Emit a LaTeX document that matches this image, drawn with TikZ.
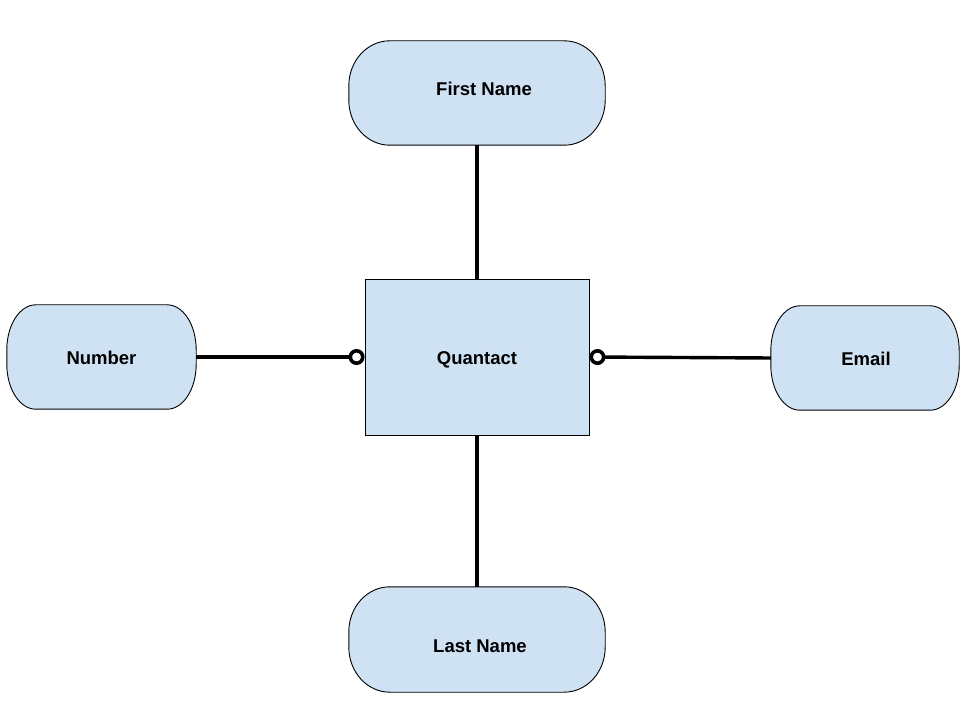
\documentclass[tikz,border=0pt]{standalone}
\usepackage{fontspec}
\setmainfont{Liberation Sans}
\usetikzlibrary{arrows.meta,backgrounds}

\definecolor{attrblue}{HTML}{CFE2F3}

\tikzset{
  x=1pt, y=1pt,
  attrnode/.style={inner sep=0pt, font=\fontsize{18.5}{22}\selectfont\bfseries},
  attrshape/.style={draw=black, line width=0.9pt, fill=attrblue},
  entity/.style={draw=black, line width=0.9pt, fill=attrblue, inner sep=0pt,
    minimum width=224pt, minimum height=156pt},
  link/.style={line width=3.4pt, black},
  optlink/.style={link,
    -{Circle[open, fill=white, length=16pt, width=16pt, line width=3.6pt]}},
}

% Attribute: rounded box with elliptical corners
% #1 name, #2 centre, #3 width, #4 height, #5 corner x radius, #6 corner y radius,
% #7 text offset, #8 text
\newcommand\attrbox[8]{%
  \node[attrnode, minimum width=#3pt, minimum height=#4pt,
        label={[attrnode, shift={#7}]center:#8}] (#1) at #2 {};
  \begin{scope}[on background layer]
    \draw[attrshape]
      ([yshift=-#6pt]#1.north west)
        arc[start angle=180, end angle=90, x radius=#5pt, y radius=#6pt]
      -- ([xshift=-#5pt]#1.north east)
        arc[start angle=90, end angle=0, x radius=#5pt, y radius=#6pt]
      -- ([yshift=#6pt]#1.south east)
        arc[start angle=0, end angle=-90, x radius=#5pt, y radius=#6pt]
      -- ([xshift=#5pt]#1.south west)
        arc[start angle=-90, end angle=-180, x radius=#5pt, y radius=#6pt]
      -- cycle;
  \end{scope}%
}

\begin{document}
\begin{tikzpicture}
  \useasboundingbox (0,0) rectangle (960,720);

  % central entity
  \node[entity, label={[attrnode, yshift=-3pt]center:Quantact}] (quantact) at (477,363) {};

  % attributes
  \attrbox{first}{(477,627)}{256}{104}{41}{45}{(7pt,4pt)}{First Name}
  \attrbox{last}{(477,80.5)}{256}{105}{41}{45}{(3pt,-7pt)}{Last Name}
  \attrbox{number}{(101.5,363)}{189}{104}{29}{45}{(0pt,-1pt)}{Number}
  \attrbox{email}{(865,362)}{188}{104}{29}{45}{(1pt,-1pt)}{Email}

  % relationships
  \draw[link] (first.south) -- (quantact.north);
  \draw[link] (quantact.south) -- (last.north);
  \draw[optlink] (number.east) -- (quantact.west);
  \draw[optlink] (email.west) -- (quantact.east);
\end{tikzpicture}
\end{document}
